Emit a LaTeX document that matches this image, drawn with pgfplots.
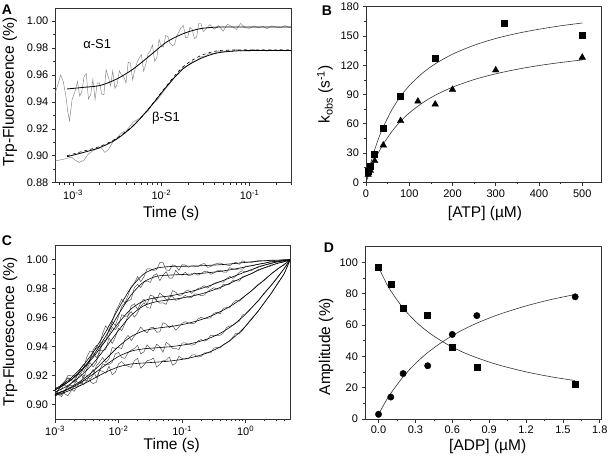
\documentclass[border=0pt]{standalone}
\usepackage{fontspec}
\setmainfont{Liberation Sans}
\usepackage{pgfplots}
\pgfplotsset{compat=1.18}
\usepackage{pgfplotstable}

\pgfplotstableread{
t y
6.31e-4 0.9470
6.76e-4 0.9530
7.24e-4 0.9600
7.76e-4 0.9550
8.32e-4 0.9440
8.71e-4 0.9330
9.12e-4 0.9260
9.77e-4 0.9420
1.047e-3 0.9470
1.122e-3 0.9551
1.189e-3 0.9444
1.259e-3 0.9477
1.334e-3 0.9589
1.413e-3 0.9610
1.496e-3 0.9422
1.585e-3 0.9454
1.679e-3 0.9566
1.778e-3 0.9418
1.884e-3 0.9540
1.995e-3 0.9542
2.113e-3 0.9458
2.239e-3 0.9453
2.371e-3 0.9639
2.512e-3 0.9585
2.661e-3 0.9520
2.818e-3 0.9630
2.985e-3 0.9501
3.162e-3 0.9532
3.350e-3 0.9630
3.548e-3 0.9600
3.758e-3 0.9586
3.981e-3 0.9540
4.217e-3 0.9694
4.467e-3 0.9688
4.732e-3 0.9563
5.012e-3 0.9638
5.309e-3 0.9691
5.623e-3 0.9728
5.957e-3 0.9750
6.310e-3 0.9627
6.683e-3 0.9680
7.079e-3 0.9757
7.499e-3 0.9778
7.943e-3 0.9823
8.414e-3 0.9701
8.913e-3 0.9730
9.441e-3 0.9864
1.0e-2 0.9813
1.059e-2 0.9808
1.122e-2 0.9893
1.189e-2 0.9885
1.259e-2 0.9834
1.334e-2 0.9818
1.413e-2 0.9826
1.496e-2 0.9889
1.585e-2 0.9921
1.679e-2 0.9953
1.778e-2 0.9967
1.884e-2 0.9876
1.995e-2 0.9881
2.113e-2 0.9952
2.239e-2 0.9938
2.371e-2 0.9871
2.512e-2 0.9882
2.661e-2 0.9982
2.818e-2 0.9980
2.985e-2 0.9922
3.162e-2 0.9938
3.548e-2 0.9974
3.981e-2 0.9939
4.467e-2 0.9967
5.012e-2 0.9925
5.623e-2 0.9977
6.310e-2 0.9959
7.079e-2 0.9938
7.943e-2 0.9983
8.913e-2 0.9950
0.1 0.9946
0.1122 0.9964
0.1259 0.9950
0.1413 0.9961
0.1585 0.9944
0.1778 0.9965
0.1995 0.9956
0.2239 0.9949
0.2512 0.9967
0.2818 0.9952
0.3 0.9958
}\Aalpha

\pgfplotstableread{
t y
6.31e-4 0.8962
7.94e-4 0.8975
9.55e-4 0.8990
1.072e-3 0.8965
1.175e-3 0.8950
1.318e-3 0.8965
1.479e-3 0.9010
1.660e-3 0.9035
1.862e-3 0.9050
2.089e-3 0.9060
2.291e-3 0.9025
2.512e-3 0.9045
2.818e-3 0.9100
3.162e-3 0.9135
3.548e-3 0.9170
3.981e-3 0.9185
4.365e-3 0.9215
4.786e-3 0.9250
5.248e-3 0.9265
5.754e-3 0.9280
6.310e-3 0.9310
7.079e-3 0.9330
7.943e-3 0.9390
8.913e-3 0.9410
1.0e-2 0.9455
1.122e-2 0.9500
1.259e-2 0.9540
1.413e-2 0.9585
1.585e-2 0.9610
1.778e-2 0.9655
1.995e-2 0.9670
2.239e-2 0.9700
2.512e-2 0.9705
2.818e-2 0.9735
3.162e-2 0.9740
3.548e-2 0.9762
3.981e-2 0.9758
4.467e-2 0.9778
5.012e-2 0.9770
5.623e-2 0.9785
6.310e-2 0.9772
7.079e-2 0.9790
7.943e-2 0.9778
8.913e-2 0.9788
0.1 0.9776
0.1122 0.9789
0.1259 0.9778
0.1413 0.9787
0.1585 0.9777
0.1778 0.9786
0.1995 0.9779
0.2239 0.9788
0.2512 0.9778
0.2818 0.9785
0.3 0.9781
}\Abeta

\pgfplotstableread{
t a b bd
8.55e-4 0.9496 0.8993 0.9000
1.32e-3 0.9508 0.9025 0.9035
2.03e-3 0.9522 0.9062 0.9070
3.13e-3 0.9570 0.9124 0.9130
4.82e-3 0.9645 0.9223 0.9225
7.43e-3 0.9744 0.9359 0.9360
1.146e-2 0.9844 0.9513 0.9520
1.76e-2 0.9906 0.9645 0.9660
2.72e-2 0.9943 0.9719 0.9740
4.19e-2 0.9955 0.9762 0.9778
6.46e-2 0.9956 0.9777 0.9785
0.0996 0.9956 0.9781 0.9785
0.3 0.9956 0.9782 0.9785
}\Afit

\pgfplotstableread{
t f1 f2 f3 f4 f5 f6 f7
0.001 0.9107 0.9101 0.9100 0.9085 0.9071 0.9069 0.9062
0.001585 0.9164 0.9154 0.9153 0.9130 0.9108 0.9103 0.9092
0.002512 0.9247 0.9231 0.9227 0.9196 0.9161 0.9151 0.9131
0.003981 0.9361 0.9338 0.9326 0.9284 0.9230 0.9210 0.9177
0.006310 0.9504 0.9473 0.9444 0.9394 0.9314 0.9274 0.9224
0.01 0.9664 0.9623 0.9564 0.9512 0.9401 0.9332 0.9260
0.01585 0.9808 0.9758 0.9661 0.9617 0.9470 0.9369 0.9280
0.02512 0.9903 0.9848 0.9717 0.9683 0.9510 0.9385 0.9287
0.03981 0.9942 0.9886 0.9739 0.9711 0.9527 0.9392 0.9293
0.06310 0.9953 0.9894 0.9750 0.9723 0.9538 0.9399 0.9300
0.1 0.9955 0.9898 0.9767 0.9736 0.9552 0.9410 0.9312
0.1585 0.9957 0.9903 0.9788 0.9753 0.9573 0.9427 0.9330
0.2512 0.9961 0.9910 0.9816 0.9777 0.9602 0.9453 0.9357
0.3981 0.9966 0.9920 0.9849 0.9809 0.9641 0.9492 0.9398
0.6310 0.9973 0.9934 0.9883 0.9847 0.9690 0.9548 0.9458
1 0.9982 0.9951 0.9917 0.9887 0.9753 0.9624 0.9541
1.585 0.9990 0.9969 0.9949 0.9927 0.9826 0.9719 0.9647
2.512 0.9996 0.9985 0.9976 0.9962 0.9901 0.9823 0.9767
3.981 0.9999 0.9995 0.9993 0.9986 0.9966 0.9935 0.9900
5.012 1.0000 1.0000 1.0000 1.0000 1.0000 1.0000 1.0000
}\Cfit

\pgfplotstableread{
t d1 d2 d3 d4 d5 d6 d7
0.001 0.9119 0.9077 0.9060 0.9049 0.9095 0.9097 0.9054
0.001259 0.9104 0.9124 0.9135 0.9140 0.9054 0.9066 0.9093
0.001585 0.9200 0.9182 0.9185 0.9126 0.9120 0.9127 0.9060
0.001995 0.9198 0.9153 0.9166 0.9135 0.9167 0.9091 0.9124
0.002512 0.9211 0.9247 0.9243 0.9216 0.9145 0.9159 0.9131
0.002818 0.9248 0.9278 0.9228 0.9182 0.9203 0.9138 0.9167
0.003162 0.9328 0.9265 0.9265 0.9244 0.9204 0.9165 0.9166
0.003548 0.9369 0.9304 0.9314 0.9290 0.9173 0.9204 0.9162
0.003981 0.9365 0.9378 0.9362 0.9260 0.9202 0.9242 0.9145
0.004467 0.9385 0.9408 0.9324 0.9288 0.9267 0.9186 0.9153
0.005012 0.9405 0.9398 0.9353 0.9375 0.9292 0.9230 0.9237
0.005623 0.9493 0.9412 0.9435 0.9371 0.9325 0.9282 0.9229
0.006310 0.9544 0.9441 0.9448 0.9382 0.9290 0.9274 0.9216
0.007079 0.9504 0.9519 0.9478 0.9460 0.9316 0.9277 0.9265
0.007943 0.9568 0.9572 0.9532 0.9421 0.9394 0.9291 0.9206
0.008913 0.9640 0.9546 0.9518 0.9467 0.9388 0.9350 0.9223
0.01 0.9682 0.9609 0.9546 0.9526 0.9394 0.9360 0.9281
0.01122 0.9728 0.9678 0.9621 0.9511 0.9387 0.9325 0.9297
0.01259 0.9701 0.9702 0.9609 0.9558 0.9450 0.9319 0.9274
0.01413 0.9755 0.9715 0.9613 0.9616 0.9478 0.9357 0.9265
0.01585 0.9815 0.9727 0.9682 0.9642 0.9442 0.9376 0.9256
0.01778 0.9839 0.9809 0.9696 0.9603 0.9473 0.9387 0.9303
0.01995 0.9884 0.9831 0.9657 0.9633 0.9501 0.9409 0.9319
0.02239 0.9849 0.9808 0.9700 0.9678 0.9535 0.9350 0.9251
0.02512 0.9882 0.9845 0.9727 0.9704 0.9510 0.9364 0.9273
0.02818 0.9938 0.9854 0.9692 0.9669 0.9494 0.9412 0.9303
0.03162 0.9937 0.9843 0.9756 0.9666 0.9530 0.9385 0.9308
0.03548 0.9926 0.9891 0.9748 0.9739 0.9533 0.9370 0.9320
0.03981 0.9932 0.9904 0.9725 0.9718 0.9499 0.9417 0.9258
0.04467 0.9980 0.9856 0.9770 0.9700 0.9502 0.9398 0.9278
0.05012 0.9980 0.9894 0.9752 0.9703 0.9565 0.9361 0.9304
0.05623 0.9930 0.9917 0.9724 0.9692 0.9554 0.9430 0.9306
0.06310 0.9925 0.9873 0.9725 0.9751 0.9531 0.9413 0.9328
0.07079 0.9965 0.9874 0.9787 0.9745 0.9546 0.9388 0.9272
0.07943 0.9958 0.9928 0.9776 0.9720 0.9514 0.9387 0.9285
0.08913 0.9927 0.9900 0.9753 0.9726 0.9535 0.9380 0.9334
0.1 0.9966 0.9894 0.9758 0.9736 0.9561 0.9425 0.9318
0.1122 0.9964 0.9914 0.9782 0.9754 0.9572 0.9426 0.9314
0.1259 0.9949 0.9889 0.9791 0.9741 0.9565 0.9416 0.9317
0.1413 0.9959 0.9896 0.9768 0.9739 0.9558 0.9410 0.9341
0.1585 0.9956 0.9909 0.9785 0.9765 0.9562 0.9415 0.9344
0.1778 0.9952 0.9893 0.9801 0.9762 0.9590 0.9439 0.9328
0.1995 0.9968 0.9904 0.9808 0.9752 0.9603 0.9449 0.9332
0.2239 0.9974 0.9920 0.9821 0.9756 0.9594 0.9438 0.9356
0.2512 0.9948 0.9921 0.9804 0.9780 0.9596 0.9447 0.9359
0.2818 0.9952 0.9900 0.9818 0.9794 0.9599 0.9478 0.9356
0.3162 0.9968 0.9908 0.9837 0.9807 0.9630 0.9478 0.9389
0.3548 0.9974 0.9923 0.9844 0.9797 0.9638 0.9477 0.9396
0.3981 0.9978 0.9929 0.9849 0.9800 0.9626 0.9479 0.9391
0.4467 0.9967 0.9915 0.9845 0.9831 0.9666 0.9494 0.9415
0.5012 0.9964 0.9914 0.9870 0.9827 0.9669 0.9532 0.9427
0.5623 0.9959 0.9946 0.9886 0.9831 0.9668 0.9542 0.9437
0.6310 0.9976 0.9937 0.9871 0.9858 0.9702 0.9547 0.9467
0.7079 0.9982 0.9933 0.9889 0.9856 0.9720 0.9564 0.9493
0.7943 0.9968 0.9937 0.9913 0.9852 0.9713 0.9576 0.9487
0.8913 0.9992 0.9935 0.9924 0.9883 0.9734 0.9619 0.9511
1 0.9985 0.9956 0.9916 0.9889 0.9755 0.9627 0.9543
1.259 0.9982 0.9958 0.9928 0.9904 0.9788 0.9673 0.9599
1.585 0.9995 0.9969 0.9953 0.9933 0.9831 0.9715 0.9645
1.995 0.9992 0.9975 0.9964 0.9944 0.9859 0.9776 0.9708
2.512 0.9998 0.9990 0.9972 0.9957 0.9902 0.9821 0.9763
3.162 0.9993 0.9985 0.9991 0.9978 0.9938 0.9874 0.9837
3.981 1.0001 0.9996 0.9991 0.9984 0.9963 0.9937 0.9896
5.012 1.0000 1.0000 1.0000 1.0000 1.0000 1.0000 1.0000
}\Cdata

\pgfplotsset{
  panel/.style={
    scale only axis, anchor=south west,
    axis line style={black!80, line width=0.8pt},
    tick align=outside, xtick pos=left, ytick pos=left,
    major tick length=3.5pt, minor tick length=2pt,
    every tick/.style={black!80, line width=0.6pt},
    tick label style={font=\fontsize{11}{13}\selectfont},
    label style={font=\fontsize{15.5}{17}\selectfont},
  },
  fitline/.style={black, line width=0.8pt, smooth},
  noisy/.style={black!72, line width=0.45pt},
}

\begin{document}
\begin{tikzpicture}
\path[use as bounding box] (0pt,0pt) rectangle (610pt,461pt);

% ---------------- A ----------------
\begin{axis}[panel, at={(55.3pt,278.3pt)}, width=236.4pt, height=174.4pt,
  xmode=log, log basis x=10, xmin=6.3e-4, xmax=0.3, ymin=0.88, ymax=1.0095,
  xtick={1e-3,1e-2,1e-1},
  xticklabels={10\textsuperscript{-3},10\textsuperscript{-2},10\textsuperscript{-1}},
  minor xtick={7e-4,8e-4,9e-4,2e-3,3e-3,4e-3,5e-3,6e-3,7e-3,8e-3,9e-3,2e-2,3e-2,4e-2,5e-2,6e-2,7e-2,8e-2,9e-2,2e-1,3e-1},
  ytick={0.88,0.90,0.92,0.94,0.96,0.98,1.00},
  yticklabels={0.88,0.90,0.92,0.94,0.96,0.98,1.00},
  minor ytick={0.89,0.91,0.93,0.95,0.97,0.99},
  xlabel={Time (s)}, ylabel={Trp-Fluorescence (\%)},
  xlabel style={at={(axis description cs:0.49,-0.174)}, anchor=center},
  ylabel style={at={(axis description cs:-0.192,0.52)}, anchor=center},
]
\addplot[black!45, line width=0.5pt] table[x=t,y=y] {\Aalpha};
\addplot[black!45, line width=0.5pt] table[x=t,y=y] {\Abeta};
\addplot[fitline] table[x=t,y=a] {\Afit};
\addplot[black, line width=0.6pt, dashed, smooth] table[x=t,y=bd] {\Afit};
\addplot[fitline] table[x=t,y=b] {\Afit};
\node[font=\fontsize{13}{15}\selectfont] at (axis cs:1.88e-3,0.9829) {α-S1};
\node[font=\fontsize{13}{15}\selectfont] at (axis cs:1.127e-2,0.9277) {β-S1};
\end{axis}

% ---------------- B ----------------
\begin{axis}[panel, at={(366pt,278.7pt)}, width=235.7pt, height=175.6pt,
  xmin=0, xmax=545, ymin=0, ymax=180,
  xtick={0,100,200,300,400,500}, xticklabels={0,100,200,300,400,500},
  minor xtick={50,150,250,350,450},
  ytick={0,30,60,90,120,150,180}, yticklabels={0,30,60,90,120,150,180},
  minor ytick={15,45,75,105,135,165},
  xlabel={[ATP] (µM)}, ylabel={k\textsubscript{obs} (s\textsuperscript{-1})},
  xlabel style={at={(axis description cs:0.505,-0.175)}, anchor=center},
  ylabel style={at={(axis description cs:-0.174,0.5)}, anchor=center},
  clip=false,
]
\addplot[black!80, line width=0.6pt, smooth] coordinates {
(0,0) (10,18.2) (20,33.3) (30,46.1) (40,56.9) (60,74.5) (80,88.1) (100,99.0) (130,111.7) (160,121.4) (200,131.3) (250,140.5) (300,147.4) (350,152.7) (400,156.9) (450,160.4) (500,163.3)};
\addplot[black!80, line width=0.6pt, smooth] coordinates {
(0,0) (10,12.1) (20,22.5) (30,31.4) (40,39.2) (60,52.2) (80,62.6) (100,71.1) (130,81.2) (160,89.2) (200,97.5) (250,105.3) (300,111.2) (350,115.9) (400,119.7) (450,122.8) (500,125.4)};
\addplot[only marks, mark=square*, mark size=3pt, black] coordinates {
(5,11) (10,17) (20,29) (40,55) (80,88) (160,127) (320,163) (500,151)};
\addplot[only marks, mark=triangle*, mark size=3.8pt, black] coordinates {
(5,8) (10,12) (20,22) (40,38) (80,63) (120,83) (160,80) (200,95) (300,115) (500,128)};
\end{axis}

% ---------------- C ----------------
\begin{axis}[panel, at={(55pt,42pt)}, width=235pt, height=173.7pt,
  xmode=log, log basis x=10, xmin=1e-3, xmax=5, ymin=0.89, ymax=1.01,
  xtick={1e-3,1e-2,1e-1,1},
  xticklabels={10\textsuperscript{-3},10\textsuperscript{-2},10\textsuperscript{-1},10\textsuperscript{0}},
  minor xtick={2e-3,3e-3,4e-3,5e-3,6e-3,7e-3,8e-3,9e-3,2e-2,3e-2,4e-2,5e-2,6e-2,7e-2,8e-2,9e-2,0.2,0.3,0.4,0.5,0.6,0.7,0.8,0.9,2,3,4},
  ytick={0.90,0.92,0.94,0.96,0.98,1.00},
  yticklabels={0.90,0.92,0.94,0.96,0.98,1.00},
  minor ytick={0.91,0.93,0.95,0.97,0.99},
  xlabel={Time (s)}, ylabel={Trp-Fluorescence (\%)},
  xlabel style={at={(axis description cs:0.497,-0.15)}, anchor=center},
  ylabel style={at={(axis description cs:-0.191,0.5)}, anchor=center},
]
\foreach \c in {d1,d2,d3,d4,d5,d6,d7}{
  \addplot[noisy] table[x=t,y=\c] {\Cdata};
}
\foreach \c in {f1,f2,f3,f4,f5,f6,f7}{
  \addplot[black, line width=0.6pt, smooth, tension=0.45] table[x=t,y=\c] {\Cfit};
}
\end{axis}

% ---------------- D ----------------
\begin{axis}[panel, at={(365pt,42pt)}, width=236pt, height=172.3pt,
  xmin=-0.11, xmax=1.81, ymin=0, ymax=110,
  xtick={0,0.3,0.6,0.9,1.2,1.5,1.8}, xticklabels={0.0,0.3,0.6,0.9,1.2,1.5,1.8},
  minor xtick={0.15,0.45,0.75,1.05,1.35,1.65},
  ytick={0,20,40,60,80,100}, yticklabels={0,20,40,60,80,100},
  minor ytick={10,30,50,70,90},
  xlabel={[ADP] (µM)}, ylabel={Amplitude (\%)},
  xlabel style={at={(axis description cs:0.52,-0.157)}, anchor=center},
  ylabel style={at={(axis description cs:-0.165,0.42)}, anchor=center},
  clip=false,
]
\addplot[black!80, line width=0.6pt, smooth] coordinates {
(0,97) (0.05,88.8) (0.1,81.8) (0.2,70.8) (0.3,62.4) (0.4,55.7) (0.5,50.4) (0.6,45.9) (0.7,42.2) (0.8,39.1) (0.9,36.4) (1.0,34.0) (1.2,30.1) (1.4,27.0) (1.6,24.5)};
\addplot[black!80, line width=0.6pt, smooth] coordinates {
(0,3) (0.05,10.1) (0.1,16.4) (0.2,26.9) (0.3,35.4) (0.4,42.4) (0.5,48.2) (0.6,53.2) (0.7,57.5) (0.8,61.2) (0.9,64.4) (1.0,67.3) (1.2,72.2) (1.4,76.2) (1.6,79.5)};
\addplot[only marks, mark=square*, mark size=3pt, black] coordinates {
(0,97) (0.1,86) (0.2,71) (0.4,66) (0.6,46) (0.8,33) (1.6,22)};
\addplot[only marks, mark=*, mark size=3.2pt, black] coordinates {
(0,3) (0.1,14) (0.2,29) (0.4,34) (0.6,54) (0.8,66) (1.6,78)};
\end{axis}

% panel letters
\node[font=\bfseries\fontsize{14}{16}\selectfont] at (7pt,451pt) {A};
\node[font=\bfseries\fontsize{14}{16}\selectfont] at (327pt,450pt) {B};
\node[font=\bfseries\fontsize{14}{16}\selectfont] at (7pt,220pt) {C};
\node[font=\bfseries\fontsize{14}{16}\selectfont] at (329pt,213pt) {D};
\end{tikzpicture}
\end{document}
